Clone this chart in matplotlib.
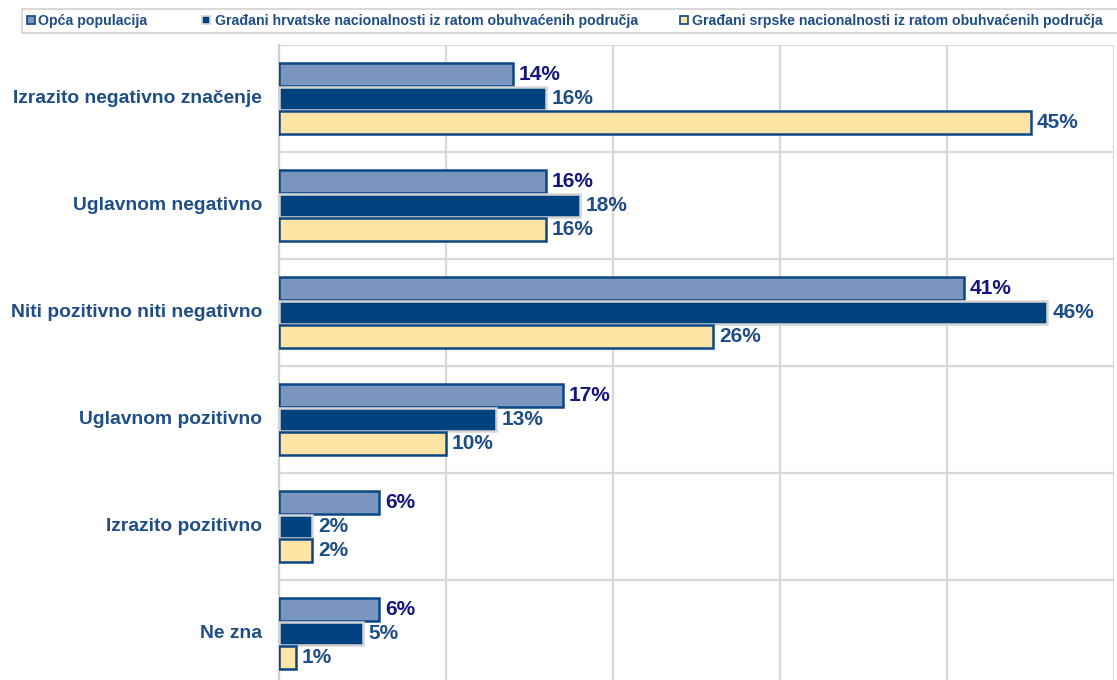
#!/usr/bin/env python3
import matplotlib
matplotlib.use("Agg")
import matplotlib.pyplot as plt
from matplotlib.patches import Rectangle
import numpy as np

categories = ["Izrazito negativno značenje", "Uglavnom negativno",
              "Niti pozitivno niti negativno", "Uglavnom pozitivno",
              "Izrazito pozitivno", "Ne zna"]
series_names = ["Opća populacija",
                "Građani hrvatske nacionalnosti iz ratom obuhvaćenih područja",
                "Građani srpske nacionalnosti iz ratom obuhvaćenih područja"]
opca = [14, 16, 41, 17, 6, 6]
hrvati = [16, 18, 46, 13, 2, 5]
srbi = [45, 16, 26, 10, 2, 1]

fills = ["#7b96be", "#00427f", "#fde4a5"]
edges = ["#0b4785", "#d4d4d4", "#0b4785"]
label_colors = ["#14157e", "#1f4e87", "#1f4e87"]
offsets = [-0.225, 0.0, 0.225]

plt.rcParams['font.family'] = ['Liberation Sans', 'DejaVu Sans']

W, H = 1117, 680
fig = plt.figure(figsize=(W / 100, H / 100), dpi=100)
left, right, top, bottom = 279, 1114, 45, 687
ax = fig.add_axes([left / W, (H - bottom) / H, (right - left) / W, (bottom - top) / H])

y = np.arange(len(categories))
for vals, fc, ec, lc, off in zip([opca, hrvati, srbi], fills, edges, label_colors, offsets):
    ax.barh(y + off, vals, height=0.215, color=fc, edgecolor=ec, linewidth=1.8, zorder=3)
    for yi, v in zip(y, vals):
        ax.text(v + 0.35, yi + off, f"{v}%", va="center", ha="left",
                fontsize=15, fontweight="bold", color=lc, zorder=4)

ax.set_xlim(0, 50)
ax.set_ylim(len(categories) - 0.5, -0.5)
ax.set_xticks(np.arange(0, 51, 10))
ax.set_yticks(np.arange(-0.5, len(categories), 1))
ax.set_yticklabels([])
ax.tick_params(axis="both", length=0, labelbottom=False)
ax.grid(True, color="#d9d9d9", linewidth=1.6, zorder=0)
for side in ["top", "right", "bottom"]:
    ax.spines[side].set_visible(False)
ax.spines["left"].set_color("#d0d0d0")
ax.spines["left"].set_linewidth(1.6)

for yi, cat in zip(y, categories):
    ax.text(-1.0, yi, cat, ha="right", va="center", fontsize=13.9,
            fontweight="bold", color="#1f4e87")

# legend drawn by hand so it runs off the right edge like the original
def px(x, yy):
    return x / W, 1 - yy / H

fig.patches.append(Rectangle(px(22, 33), (W + 20 - 22) / W, 24 / H,
                             transform=fig.transFigure, facecolor="white",
                             edgecolor="#d9d9d9", linewidth=1.5))
marker_x = [31, 206, 684]
text_x = [38, 215, 692]
for mx, tx, fc, ec, name in zip(marker_x, text_x, fills, edges, series_names):
    fig.patches.append(Rectangle(px(mx - 4, 24), 8 / W, 8 / H,
                                 transform=fig.transFigure, facecolor=fc,
                                 edgecolor=ec, linewidth=1.2))
    fig.text(*px(tx, 20.5), name, ha="left", va="center", fontsize=10.2,
             fontweight="bold", color="#1f4e87")

fig.savefig("out.png", dpi=100)
